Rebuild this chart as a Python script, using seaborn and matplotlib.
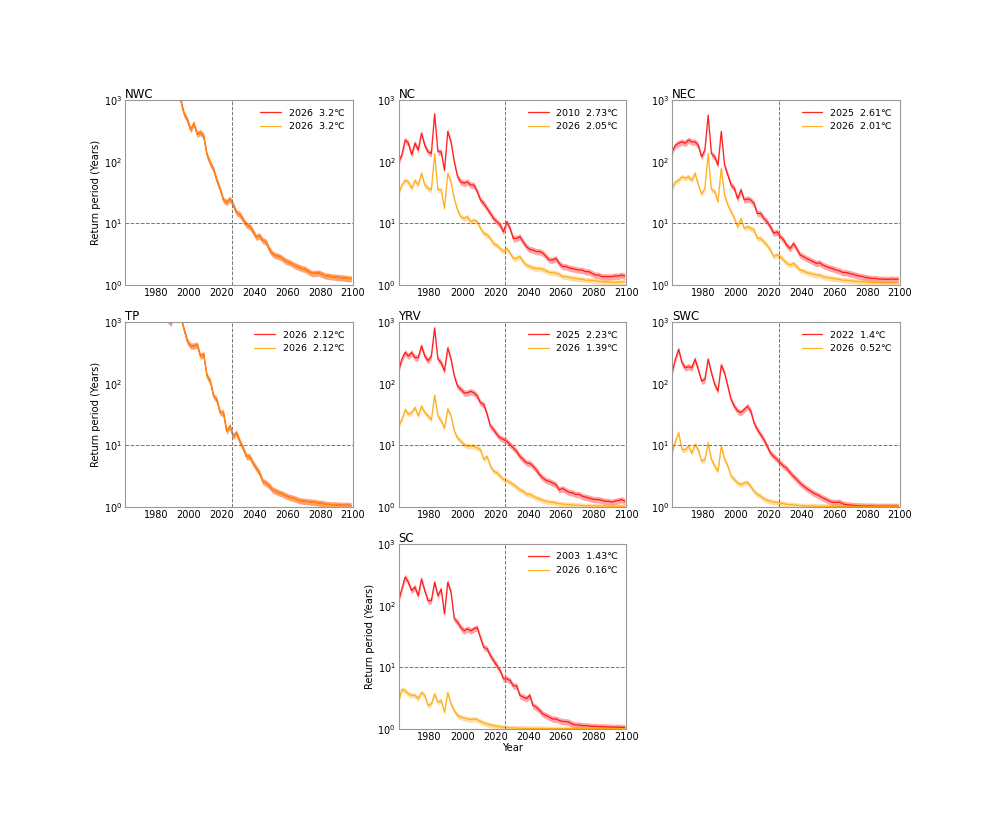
import numpy as np
import matplotlib
matplotlib.use("Agg")
import matplotlib.pyplot as plt
import seaborn as sns

years = list(range(1961, 2100, 2))

nwc_red = [20000, 18000, 16000, 14000, 12000, 10000, 8500, 7000, 6000, 5000,
           4200, 3500, 2900, 2400, 2000, 1600, 1300, 1000, 600, 480,
           330, 420, 280, 300, 260, 130, 95, 75, 50, 36,
           24, 22, 25, 20, 15, 14, 11.5, 9.5, 9, 7.5,
           6, 6.3, 5.3, 5.0, 3.8, 3.2, 3.0, 2.9, 2.7, 2.45,
           2.35, 2.2, 2.05, 1.95, 1.85, 1.8, 1.65, 1.55, 1.55, 1.58,
           1.5, 1.42, 1.4, 1.37, 1.35, 1.33, 1.32, 1.3, 1.28, 1.27]
nwc_orange = nwc_red

nc_red = [100, 128, 225, 200, 130, 200, 155, 290, 185, 145,
          135, 600, 145, 145, 73, 310, 210, 100, 57, 47,
          45, 47, 42, 42, 33, 24, 21, 17.5, 14.5, 12,
          10.6, 9.4, 7.3, 10.6, 8.3, 5.7, 5.7, 6.1, 5.0, 4.2,
          3.8, 3.7, 3.5, 3.5, 3.3, 2.9, 2.55, 2.55, 2.7, 2.25,
          2.0, 2.0, 1.9, 1.85, 1.8, 1.75, 1.75, 1.65, 1.65, 1.55,
          1.45, 1.45, 1.37, 1.37, 1.37, 1.37, 1.4, 1.4, 1.45, 1.4]
nc_orange = [30, 42, 50, 47, 37, 50, 42, 65, 42, 37,
             35, 135, 35, 35, 17.5, 65, 47, 25, 16.5, 12.8,
             12, 12.8, 10.6, 11.3, 10.6, 8.3, 6.9, 6.5, 5.7, 4.7,
             4.4, 3.9, 3.5, 3.9, 3.3, 2.7, 2.7, 2.9, 2.4, 2.1,
             2.0, 1.9, 1.85, 1.85, 1.8, 1.7, 1.6, 1.6, 1.55, 1.5,
             1.37, 1.37, 1.33, 1.3, 1.28, 1.25, 1.24, 1.2, 1.2, 1.19,
             1.16, 1.16, 1.13, 1.13, 1.13, 1.1, 1.11, 1.11, 1.12, 1.13]

nec_red = [145, 185, 200, 210, 200, 225, 210, 210, 185, 120,
           155, 570, 135, 120, 88, 310, 88, 61, 42, 37,
           25, 35, 24, 25, 24, 21, 14.5, 14.5, 12, 10.6,
           8.8, 6.9, 7.3, 6.1, 5.4, 4.4, 3.9, 4.7, 3.9, 3.1,
           2.9, 2.7, 2.55, 2.4, 2.25, 2.3, 2.1, 2.0, 1.9, 1.85,
           1.75, 1.7, 1.6, 1.6, 1.55, 1.5, 1.45, 1.4, 1.37, 1.33,
           1.3, 1.28, 1.28, 1.25, 1.25, 1.24, 1.24, 1.25, 1.24, 1.25]
nec_orange = [37, 47, 50, 57, 54, 57, 50, 65, 42, 30,
              37, 135, 35, 33, 22.5, 78, 29, 20, 15.5, 12,
              8.8, 12, 8.3, 8.8, 8.3, 7.8, 5.7, 5.7, 5.0, 4.4,
              3.7, 2.9, 3.1, 2.9, 2.55, 2.25, 2.1, 2.25, 2.0, 1.75,
              1.7, 1.6, 1.55, 1.5, 1.45, 1.45, 1.37, 1.33, 1.3, 1.28,
              1.25, 1.24, 1.2, 1.2, 1.18, 1.16, 1.15, 1.13, 1.13, 1.12,
              1.1, 1.1, 1.09, 1.09, 1.08, 1.08, 1.08, 1.08, 1.08, 1.08]

tp_red = [30000, 25000, 21000, 18000, 15000, 12000, 9000, 7000, 5000, 3500,
          2500, 1800, 1300, 1100, 950, 1400, 1800, 1200, 760, 490,
          410, 410, 430, 280, 300, 133, 110, 63, 55, 34,
          34, 17, 20.4, 14, 16, 11.6, 9.1, 6.6, 6.6, 5.2,
          4.3, 3.6, 2.6, 2.45, 2.2, 1.9, 1.8, 1.7, 1.63, 1.53,
          1.45, 1.4, 1.35, 1.28, 1.25, 1.24, 1.22, 1.2, 1.19, 1.16,
          1.15, 1.12, 1.1, 1.09, 1.09, 1.08, 1.07, 1.07, 1.07, 1.05]
tp_orange = tp_red

yrv_red = [160, 250, 320, 280, 320, 265, 265, 410, 280, 235,
           280, 800, 250, 220, 160, 380, 250, 133, 91, 81,
           71, 71, 75, 71, 63, 49, 46, 32, 20.5, 18,
           15, 13.2, 12.4, 11.7, 10.3, 9.1, 8.0, 6.6, 5.9, 5.2,
           5.1, 4.6, 4.0, 3.35, 2.95, 2.7, 2.6, 2.45, 2.3, 1.9,
           2.0, 1.85, 1.73, 1.7, 1.6, 1.6, 1.5, 1.45, 1.4, 1.35,
           1.32, 1.32, 1.28, 1.24, 1.24, 1.2, 1.24, 1.27, 1.32, 1.24]
yrv_orange = [20.4, 26, 38, 32, 34, 41, 30, 43, 34, 30,
              26, 65, 30, 25, 19, 39, 30, 17, 13.2, 11.7,
              10.3, 9.7, 9.7, 9.7, 9.1, 8.5, 5.9, 6.6, 4.6, 3.8,
              3.6, 3.15, 2.8, 2.7, 2.5, 2.3, 2.1, 1.9, 1.8, 1.63,
              1.6, 1.5, 1.4, 1.35, 1.28, 1.24, 1.2, 1.19, 1.16, 1.13,
              1.12, 1.1, 1.09, 1.08, 1.07, 1.07, 1.05, 1.05, 1.05, 1.04,
              1.04, 1.04, 1.04, 1.04, 1.03, 1.03, 1.03, 1.03, 1.03, 1.03]

swc_red = [150, 250, 360, 220, 180, 190, 180, 250, 170, 110,
           117, 250, 150, 97, 76, 200, 150, 91, 55, 43,
           36, 34, 38, 43, 36, 23, 18, 15, 12.4, 9.7,
           7.5, 6.6, 5.9, 5.2, 4.6, 4.2, 3.6, 3.15, 2.8, 2.45,
           2.2, 2.0, 1.85, 1.7, 1.6, 1.5, 1.4, 1.32, 1.24, 1.19,
           1.19, 1.2, 1.13, 1.09, 1.08, 1.07, 1.05, 1.05, 1.04, 1.04,
           1.04, 1.04, 1.03, 1.03, 1.03, 1.03, 1.03, 1.03, 1.03, 1.03]
swc_orange = [7.5, 11.7, 16, 8.5, 8.5, 9.7, 7.5, 10.3, 8.5, 5.5,
              5.9, 11, 5.9, 4.6, 3.8, 9.7, 6.0, 4.6, 3.15, 2.8,
              2.45, 2.3, 2.45, 2.5, 2.15, 1.8, 1.6, 1.5, 1.35, 1.28,
              1.24, 1.2, 1.19, 1.16, 1.13, 1.1, 1.09, 1.08, 1.07, 1.05,
              1.05, 1.04, 1.04, 1.04, 1.03, 1.03, 1.03, 1.03, 1.02, 1.02,
              1.02, 1.02, 1.02, 1.02, 1.02, 1.02, 1.02, 1.02, 1.02, 1.02,
              1.02, 1.02, 1.02, 1.02, 1.02, 1.02, 1.02, 1.02, 1.02, 1.02]

sc_red = [120, 185, 290, 240, 175, 200, 145, 270, 175, 120,
          120, 240, 145, 185, 73, 240, 165, 61, 54, 44,
          39, 42, 39, 42, 44, 30, 21, 20, 15.5, 12.8,
          10.6, 8.8, 6.5, 6.5, 6.1, 5.0, 5.0, 3.5, 3.3, 3.1,
          3.5, 2.4, 2.25, 2.0, 1.75, 1.65, 1.55, 1.45, 1.45, 1.37,
          1.32, 1.32, 1.28, 1.2, 1.16, 1.16, 1.13, 1.13, 1.12, 1.1,
          1.1, 1.09, 1.09, 1.08, 1.08, 1.07, 1.07, 1.07, 1.06, 1.06]
sc_orange = [2.7, 4.4, 4.2, 3.7, 3.5, 3.5, 3.1, 3.9, 3.5, 2.4,
             2.55, 3.7, 2.7, 2.9, 1.86, 3.9, 2.55, 1.98, 1.65, 1.55,
             1.5, 1.45, 1.42, 1.45, 1.42, 1.32, 1.25, 1.2, 1.16, 1.13,
             1.1, 1.08, 1.06, 1.05, 1.04, 1.04, 1.03, 1.03, 1.02, 1.02,
             1.02, 1.02, 1.02, 1.02, 1.02, 1.01, 1.01, 1.01, 1.01, 1.01,
             1.01, 1.01, 1.01, 1.01, 1.01, 1.01, 1.01, 1.01, 1.01, 1.01,
             1.01, 1.01, 1.01, 1.01, 1.01, 1.01, 1.01, 1.01, 1.01, 1.01]

regions = ["NWC", "NC", "NEC", "TP", "YRV", "SWC", "SC"]
red_series = [nwc_red, nc_red, nec_red, tp_red, yrv_red, swc_red, sc_red]
orange_series = [nwc_orange, nc_orange, nec_orange, tp_orange, yrv_orange, swc_orange, sc_orange]
red_labels = ["2026  3.2℃", "2010  2.73℃", "2025  2.61℃", "2026  2.12℃",
              "2025  2.23℃", "2022  1.4℃", "2003  1.43℃"]
orange_labels = ["2026  3.2℃", "2026  2.05℃", "2026  2.01℃", "2026  2.12℃",
                 "2026  1.39℃", "2026  0.52℃", "2026  0.16℃"]
ref_year = 2026
ref_period = 10

sns.set_style("white")
plt.rcParams['font.family'] = ['DejaVu Sans']
plt.rcParams['text.color'] = 'black'
plt.rcParams['xtick.color'] = 'black'
plt.rcParams['ytick.color'] = 'black'
plt.rcParams['axes.labelcolor'] = 'black'

fig, axes = plt.subplots(3, 3, figsize=(10, 8.34), dpi=100)
fig.subplots_adjust(left=0.125, right=0.9, top=0.88, bottom=0.126, wspace=0.2, hspace=0.2)
axes[2, 0].axis("off")
axes[2, 2].axis("off")
panel_axes = [axes[0, 0], axes[0, 1], axes[0, 2], axes[1, 0], axes[1, 1], axes[1, 2], axes[2, 1]]

yrs = np.array(years)
for i, ax in enumerate(panel_axes):
    r = np.array(red_series[i], dtype=float)
    o = np.array(orange_series[i], dtype=float)
    ax.fill_between(yrs, r * 0.88, r * 1.12, color="red", alpha=0.35, lw=0)
    sns.lineplot(x=yrs, y=r, ax=ax, color="red", lw=0.9, alpha=0.85, label=red_labels[i])
    ax.fill_between(yrs, o * 0.9, o * 1.1, color="orange", alpha=0.35, lw=0)
    sns.lineplot(x=yrs, y=o, ax=ax, color="orange", lw=0.9, alpha=0.85, label=orange_labels[i])
    ax.axvline(ref_year, color="#777777", ls="--", lw=0.7)
    ax.axhline(ref_period, color="#777777", ls="--", lw=0.7)
    ax.set_yscale("log")
    ax.set_ylim(1, 1000)
    ax.set_xlim(1961, 2100)
    ax.set_xticks([1980, 2000, 2020, 2040, 2060, 2080, 2100])
    ax.tick_params(which="both", length=0, labelsize=7, pad=2)
    ax.minorticks_off()
    for s in ax.spines.values():
        s.set_color("#999999")
        s.set_linewidth(0.8)
    ax.set_title(regions[i], loc="left", fontsize=8.5, pad=1.5)
    ax.legend(loc="upper right", frameon=False, fontsize=6.8, handlelength=2.2)
    ax.set_xlabel("")
    ax.set_ylabel("")

for ax in [axes[0, 0], axes[1, 0], axes[2, 1]]:
    ax.set_ylabel("Return period (Years)", fontsize=7.2, labelpad=2)
axes[2, 1].set_xlabel("Year", fontsize=7.2, labelpad=1)

fig.savefig("out.png", dpi=100)
